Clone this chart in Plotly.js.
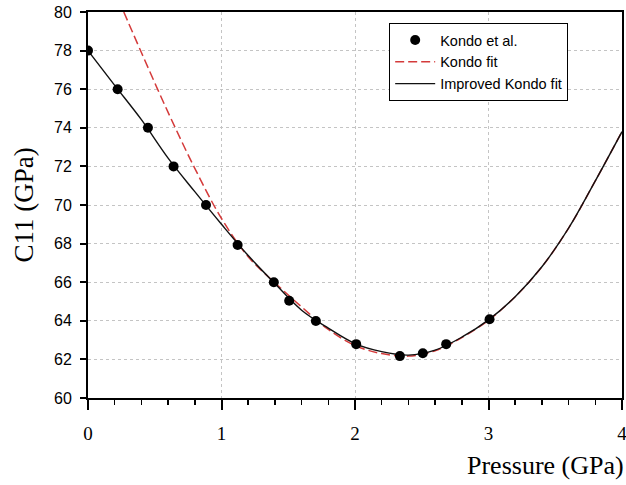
<!DOCTYPE html>
<html>
<head>
<meta charset="utf-8">
<script src="https://cdn.plot.ly/plotly-3.0.1.min.js"></script>
<style>html,body{margin:0;padding:0;background:#fff;}#chart{width:626px;height:485px;}</style>
</head>
<body>
<div id="chart"></div>
<script>
// Kondo et al. measured points
var obsP = [0, 0.222, 0.449, 0.641, 0.884, 1.121, 1.392, 1.507, 1.707, 2.009, 2.336, 2.508, 2.683, 3.008];
var obsC = [78.0, 76.0, 74.0, 72.0, 70.0, 67.93, 66.0, 65.04, 63.99, 62.79, 62.17, 62.32, 62.79, 64.08];

// Kondo fit (red dashed)
var kondoP = [0.268, 0.4, 0.6, 0.8, 1.0, 1.2, 1.4, 1.6, 1.8, 2.0, 2.2, 2.4, 2.6, 2.8, 3.0, 3.2, 3.4, 3.6, 3.8, 4.0];
var kondoC = [80.0, 77.9, 74.8, 71.9, 69.3, 67.32, 65.97, 64.72, 63.55, 62.72, 62.3, 62.17, 62.45, 63.13, 64.03, 65.25, 66.8, 68.8, 71.25, 73.8];

// Improved Kondo fit (black solid)
var impP = [0, 0.2, 0.4, 0.6, 0.8, 1.0, 1.2, 1.4, 1.6, 1.8, 2.0, 2.2, 2.4, 2.6, 2.8, 3.0, 3.2, 3.4, 3.6, 3.8, 4.0];
var impC = [78.0, 76.2, 74.42, 72.43, 70.69, 69.0, 67.38, 65.93, 64.55, 63.62, 62.82, 62.4, 62.22, 62.48, 63.15, 64.05, 65.25, 66.8, 68.8, 71.25, 73.8];

var xTicks = [0, 1, 2, 3, 4];
var yTicks = [60, 62, 64, 66, 68, 70, 72, 74, 76, 78, 80];

var traces = [
  {x: kondoP, y: kondoC, type: 'scatter', mode: 'lines', name: 'Kondo fit', legendrank: 2,
   line: {color: '#d43a3a', width: 1.5, dash: '9px,4px', shape: 'spline', smoothing: 1}},
  {x: impP, y: impC, type: 'scatter', mode: 'lines', name: 'Improved Kondo fit', legendrank: 3,
   line: {color: '#111111', width: 1.4, shape: 'spline', smoothing: 1}},
  {x: obsP, y: obsC, type: 'scatter', mode: 'markers', name: 'Kondo et al.', legendrank: 1,
   marker: {color: '#000000', size: 10, symbol: 'circle'}}
];

var layout = {
  width: 626, height: 485,
  margin: {l: 88, r: 4, t: 12, b: 87, pad: 0},
  paper_bgcolor: '#ffffff', plot_bgcolor: '#ffffff',
  showlegend: true,
  legend: {
    x: 0.564, y: 0.9715, xanchor: 'left', yanchor: 'top',
    bgcolor: '#ffffff', bordercolor: '#000000', borderwidth: 1,
    font: {family: 'Liberation Sans, Arial, sans-serif', size: 14.5, color: '#000'},
    itemwidth: 40, tracegroupgap: 0
  },
  xaxis: {
    range: [0, 4], tickvals: xTicks, ticktext: xTicks.map(String),
    showgrid: true, gridcolor: '#c4c4c4', griddash: 'dot', gridwidth: 1,
    zeroline: false, showline: true, linecolor: '#000', linewidth: 2, mirror: true,
    ticks: 'outside', ticklen: 10, tickwidth: 2, tickcolor: '#000',
    ticklabelstandoff: 7, ticklabeloverflow: 'allow',
    minor: {dtick: 0.2, ticks: 'outside', ticklen: 5, tickwidth: 1.5, tickcolor: '#000', showgrid: false},
    tickfont: {family: 'Liberation Serif, Times New Roman, serif', size: 19, color: '#000'}
  },
  yaxis: {
    range: [60, 80], tickvals: yTicks, ticktext: yTicks.map(String),
    showgrid: true, gridcolor: '#c4c4c4', griddash: 'dot', gridwidth: 1,
    zeroline: false, showline: true, linecolor: '#000', linewidth: 2, mirror: true,
    ticks: 'outside', ticklen: 6, tickwidth: 2, tickcolor: '#000',
    ticklabelstandoff: 5,
    tickfont: {family: 'Liberation Sans, Arial, sans-serif', size: 16, color: '#000'},
    title: {text: 'C11 (GPa)', standoff: 13,
            font: {family: 'Liberation Serif, Times New Roman, serif', size: 27, color: '#000'}}
  },
  annotations: [
    {text: 'Pressure (GPa)', xref: 'paper', yref: 'paper', x: 1.008, y: -0.174,
     xanchor: 'right', yanchor: 'middle', showarrow: false,
     font: {family: 'Liberation Serif, Times New Roman, serif', size: 26, color: '#000'}}
  ]
};

Plotly.newPlot('chart', traces, layout, {displayModeBar: false, staticPlot: true});
</script>
</body>
</html>
